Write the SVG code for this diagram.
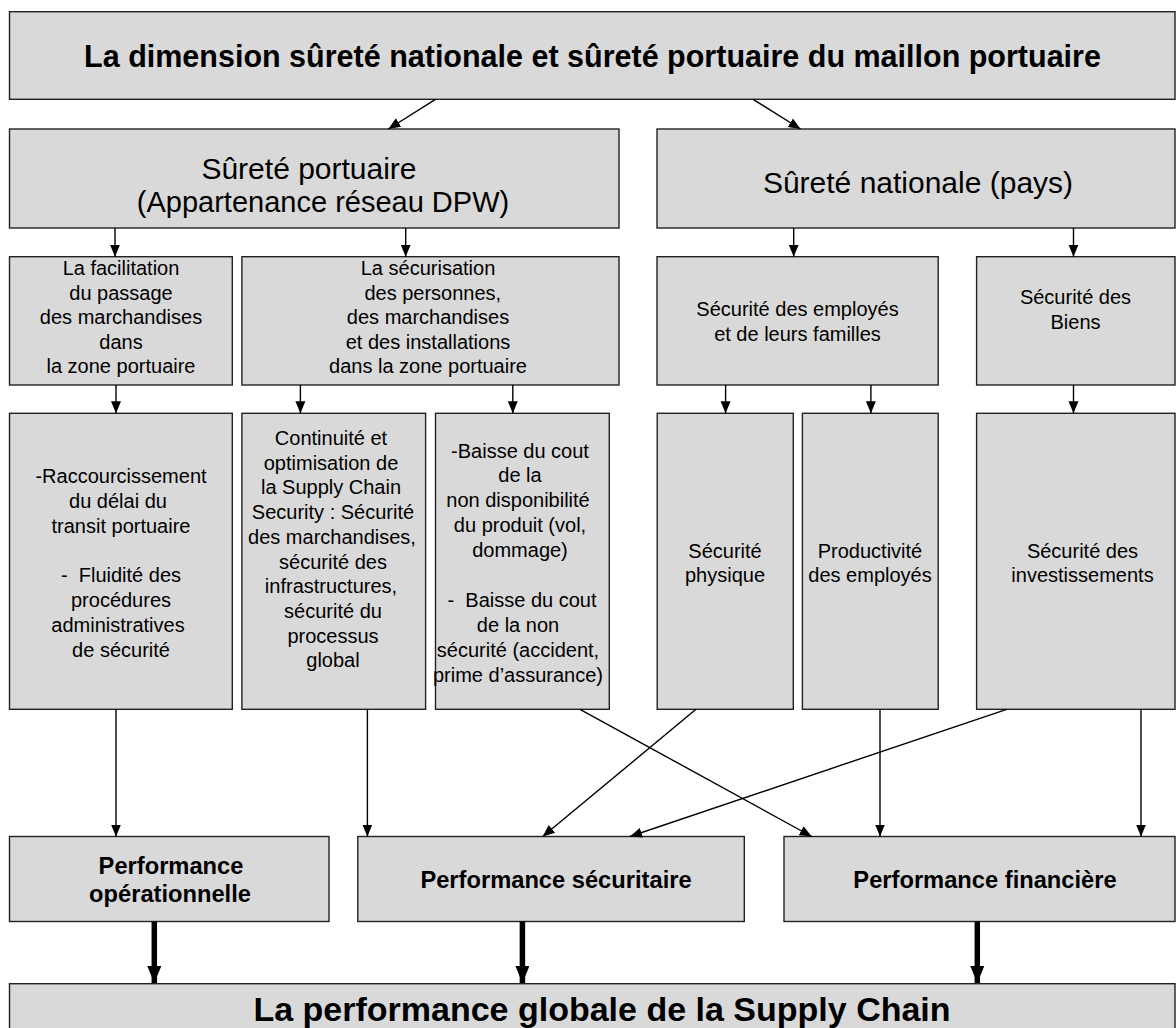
<svg xmlns="http://www.w3.org/2000/svg" width="1176" height="1028" viewBox="0 0 1176 1028">
<style>
.box{fill:#d9d9d9;stroke:#222;stroke-width:1.4}
.t{font-family:"Liberation Sans",Arial,sans-serif;font-size:20px;fill:#000;text-anchor:middle}
.tl{font-family:"Liberation Sans",Arial,sans-serif;font-size:30px;fill:#000;text-anchor:middle}
.tb{font-family:"Liberation Sans",Arial,sans-serif;font-size:23.7px;font-weight:bold;fill:#000;text-anchor:middle}
.c{stroke:#000;stroke-width:1.4;fill:none;marker-end:url(#ah)}
.ck{stroke:#000;stroke-width:5.5;fill:none;marker-end:url(#ahk)}
</style>
<defs>
<marker id="ah" markerUnits="userSpaceOnUse" markerWidth="12" markerHeight="12" viewBox="0 0 12 10" refX="12" refY="5" orient="auto">
<path d="M0,0 L12,5 L0,10 Z" fill="#000"/>
</marker>
<marker id="ahk" markerUnits="userSpaceOnUse" markerWidth="17" markerHeight="14" viewBox="0 0 17 14" refX="17" refY="7" orient="auto">
<path d="M0,0 L17,7 L0,14 Z" fill="#000"/>
</marker>
</defs>

<g id="n-top">
<rect class="box" x="9.5" y="11.7" width="1165.5" height="87.6"/>
<text class="tl" x="592.5" y="66.5" style="font-weight:bold;font-size:30.5px">La dimension sûreté nationale et sûreté portuaire du maillon portuaire</text>
</g>

<g id="n-surete-portuaire">
<rect class="box" x="9.5" y="129" width="609.5" height="99"/>
<text class="tl" x="309" y="179">Sûreté portuaire</text>
<text class="tl" x="323" y="212" style="font-size:29px">(Appartenance réseau DPW)</text>
</g>

<g id="n-surete-nationale">
<rect class="box" x="657" y="129" width="518" height="99"/>
<text class="tl" x="918" y="193">Sûreté nationale (pays)</text>
</g>

<g id="n-facilitation">
<rect class="box" x="9.5" y="256.7" width="222.8" height="128.3"/>
<text class="t" x="121" y="275">La facilitation</text>
<text class="t" x="121" y="299.5">du passage</text>
<text class="t" x="121" y="324">des marchandises</text>
<text class="t" x="121" y="348.5">dans</text>
<text class="t" x="121" y="373">la zone portuaire</text>
</g>

<g id="n-securisation">
<rect class="box" x="241.9" y="256.7" width="377.1" height="128.3"/>
<text class="t" x="428" y="275">La sécurisation</text>
<text class="t" x="430" y="299.5" xml:space="preserve"> des personnes,</text>
<text class="t" x="428" y="324">des marchandises</text>
<text class="t" x="428" y="348.5">et des installations</text>
<text class="t" x="428" y="373">dans la zone portuaire</text>
</g>

<g id="n-employes">
<rect class="box" x="657" y="256.7" width="281.2" height="128.3"/>
<text class="t" x="797.5" y="316">Sécurité des employés</text>
<text class="t" x="797.5" y="340.5">et de leurs familles</text>
</g>

<g id="n-biens">
<rect class="box" x="976.6" y="256.7" width="198.4" height="128.3"/>
<text class="t" x="1075.5" y="304">Sécurité des</text>
<text class="t" x="1075.5" y="328.5">Biens</text>
</g>

<g id="n-raccourcissement">
<rect class="box" x="9.5" y="413.3" width="222.8" height="296"/>
<text class="t" x="121" y="483">-Raccourcissement</text>
<text class="t" x="118" y="507.8">du délai du</text>
<text class="t" x="121" y="532.6">transit portuaire</text>
<text class="t" x="121" y="582.2" xml:space="preserve">-  Fluidité des</text>
<text class="t" x="121" y="607">procédures</text>
<text class="t" x="118" y="631.8">administratives</text>
<text class="t" x="121" y="656.6">de sécurité</text>
</g>

<g id="n-continuite">
<rect class="box" x="241.9" y="413.3" width="183.7" height="296"/>
<text class="t" x="331" y="445">Continuité et</text>
<text class="t" x="331" y="469.7">optimisation de</text>
<text class="t" x="331" y="494.4">la Supply Chain</text>
<text class="t" x="333" y="519.1">Security : Sécurité</text>
<text class="t" x="332" y="543.8">des marchandises,</text>
<text class="t" x="333" y="568.5">sécurité des</text>
<text class="t" x="331" y="593.2">infrastructures,</text>
<text class="t" x="333" y="617.9">sécurité du</text>
<text class="t" x="333" y="642.6">processus</text>
<text class="t" x="333" y="667.3">global</text>
</g>

<g id="n-baisse">
<rect class="box" x="435.5" y="413.3" width="173.8" height="296"/>
<text class="t" x="520" y="457.5">-Baisse du cout</text>
<text class="t" x="520" y="482.4">de la</text>
<text class="t" x="518" y="507.3">non disponibilité</text>
<text class="t" x="520" y="532.2">du produit (vol,</text>
<text class="t" x="520" y="557.1">dommage)</text>
<text class="t" x="522" y="606.9" xml:space="preserve">-  Baisse du cout</text>
<text class="t" x="518" y="631.8">de la non</text>
<text class="t" x="518" y="656.7">sécurité (accident,</text>
<text class="t" x="518" y="681.6">prime d’assurance)</text>
</g>

<g id="n-physique">
<rect class="box" x="657.2" y="413.3" width="136.1" height="296"/>
<text class="t" x="725" y="558">Sécurité</text>
<text class="t" x="725" y="582">physique</text>
</g>

<g id="n-productivite">
<rect class="box" x="802.4" y="413.3" width="135.8" height="296"/>
<text class="t" x="870" y="558">Productivité</text>
<text class="t" x="870" y="582">des employés</text>
</g>

<g id="n-investissements">
<rect class="box" x="976.6" y="413.3" width="198.4" height="296"/>
<text class="t" x="1082.5" y="558">Sécurité des</text>
<text class="t" x="1082.5" y="582">investissements</text>
</g>

<g id="n-perf-op">
<rect class="box" x="9.5" y="836.5" width="319.5" height="85"/>
<text class="tb" x="171" y="873.5">Performance</text>
<text class="tb" x="170" y="901.5">opérationnelle</text>
</g>

<g id="n-perf-sec">
<rect class="box" x="357.8" y="836.5" width="386.5" height="85"/>
<text class="tb" x="556" y="887.5">Performance sécuritaire</text>
</g>

<g id="n-perf-fin">
<rect class="box" x="784" y="836.5" width="391" height="85"/>
<text class="tb" x="985" y="887.5">Performance financière</text>
</g>

<g id="n-global">
<rect class="box" x="9.5" y="983.7" width="1165.5" height="60"/>
<text class="tb" x="602" y="1021" style="font-size:34px">La performance globale de la Supply Chain</text>
</g>

<g id="connectors">
<line class="c" x1="435.5" y1="99.3" x2="388.4" y2="129"/>
<line class="c" x1="753" y1="99.3" x2="800.5" y2="129"/>
<line class="c" x1="115" y1="228" x2="115" y2="256.7"/>
<line class="c" x1="405.7" y1="228" x2="405.7" y2="256.7"/>
<line class="c" x1="793.7" y1="228" x2="793.7" y2="256.7"/>
<line class="c" x1="1073.5" y1="228" x2="1073.5" y2="256.7"/>
<line class="c" x1="116" y1="385" x2="116" y2="413.3"/>
<line class="c" x1="300.4" y1="385" x2="300.4" y2="413.3"/>
<line class="c" x1="512.8" y1="385" x2="512.8" y2="413.3"/>
<line class="c" x1="725.6" y1="385" x2="725.6" y2="413.3"/>
<line class="c" x1="870.9" y1="385" x2="870.9" y2="413.3"/>
<line class="c" x1="1073.5" y1="385" x2="1073.5" y2="413.3"/>
<line class="c" x1="116" y1="709.3" x2="116" y2="836.5"/>
<line class="c" x1="367.4" y1="709.3" x2="367.4" y2="836.5"/>
<line class="c" x1="580" y1="709.3" x2="811.7" y2="836.5"/>
<line class="c" x1="696" y1="709.3" x2="542.7" y2="836.5"/>
<line class="c" x1="880" y1="709.3" x2="880" y2="836.5"/>
<line class="c" x1="1006.7" y1="709.3" x2="630" y2="836.5"/>
<line class="c" x1="1141" y1="709.3" x2="1141" y2="836.5"/>
<line class="ck" x1="154.3" y1="921.5" x2="154.3" y2="983"/>
<line class="ck" x1="522.4" y1="921.5" x2="522.4" y2="983"/>
<line class="ck" x1="977.3" y1="921.5" x2="977.3" y2="983"/>
</g>
</svg>
